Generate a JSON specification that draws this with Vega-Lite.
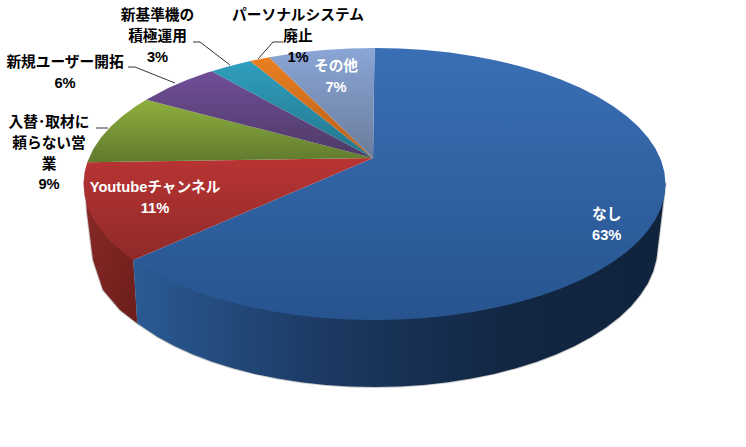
{"$schema":"https://vega.github.io/schema/vega-lite/v6.json","width":746,"height":447,"padding":0,"autosize":{"type":"none"},"background":"white","config":{"view":{"stroke":null}},
"data":{"values":[
{"name":"なし","share":63,"label":"なし\n63%","placement":"inside","lon":0.7979,"lat":-0.1065,
"top":{"type":"Polygon","coordinates":[[[-0.005,0.0893],[0,0.4674],[0.0872,0.4656],[0.1736,0.4603],[0.2588,0.4515],[0.342,0.4392],[0.4226,0.4236],[0.5,0.4048],[0.5736,0.3829],[0.6428,0.358],[0.7071,0.3305],[0.766,0.3004],[0.8192,0.2681],[0.866,0.2337],[0.9063,0.1975],[0.9397,0.1599],[0.9659,0.121],[0.9848,0.0812],[0.9962,0.0407],[1,0],[0.9962,-0.0407],[0.9848,-0.0812],[0.9659,-0.121],[0.9397,-0.1599],[0.9063,-0.1975],[0.866,-0.2337],[0.8192,-0.2681],[0.766,-0.3004],[0.7071,-0.3305],[0.6428,-0.358],[0.5736,-0.3829],[0.5,-0.4048],[0.4226,-0.4236],[0.342,-0.4392],[0.2588,-0.4515],[0.1736,-0.4603],[0.0872,-0.4656],[0,-0.4674],[-0.0872,-0.4656],[-0.1736,-0.4603],[-0.2588,-0.4515],[-0.342,-0.4392],[-0.4226,-0.4236],[-0.5,-0.4048],[-0.5736,-0.3829],[-0.6428,-0.358],[-0.7071,-0.3305],[-0.766,-0.3004],[-0.829,-0.2614],[-0.005,0.0893]]]},
"wall":{"type":"Polygon","coordinates":[[[1,0],[0.988,-0.0997],[0.9688,-0.2584],[0.9577,-0.3],[0.9394,-0.341],[0.9138,-0.381],[0.8814,-0.4198],[0.8422,-0.4571],[0.7966,-0.4925],[0.745,-0.5257],[0.6877,-0.5567],[0.6251,-0.585],[0.5578,-0.6106],[0.4863,-0.6332],[0.411,-0.6525],[0.3326,-0.6686],[0.2517,-0.6812],[0.1689,-0.6903],[0.0848,-0.6958],[0,-0.6976],[-0.0848,-0.6958],[-0.1689,-0.6903],[-0.2517,-0.6812],[-0.3326,-0.6686],[-0.411,-0.6525],[-0.4863,-0.6332],[-0.5578,-0.6106],[-0.6251,-0.585],[-0.6877,-0.5567],[-0.745,-0.5257],[-0.815,-0.479],[-0.829,-0.2614],[1,0]]]}},
{"name":"Youtubeチャンネル","share":11,"label":"Youtubeチャンネル\n11%","placement":"inside","lon":-0.7543,"lat":-0.0137,
"top":{"type":"Polygon","coordinates":[[[-0.005,0.0893],[-0.829,-0.2614],[-0.866,-0.2337],[-0.9063,-0.1975],[-0.9397,-0.1599],[-0.9659,-0.121],[-0.9848,-0.0812],[-0.9962,-0.0407],[-1,0],[-0.9962,0.0407],[-0.9871,0.0747],[-0.005,0.0893]]]},
"wall":{"type":"Polygon","coordinates":[[[-0.829,-0.2614],[-0.815,-0.479],[-0.8746,-0.433],[-0.933,-0.3643],[-0.9674,-0.2612],[-0.988,-0.0997],[-0.9966,0.0137],[-0.829,-0.2614]]]}},
{"name":"入替･取材に頼らない営業","share":9,"label":"入替･取材に\n頼らない営\n業\n9%","placement":"outside","lon":-1.1186,"lat":0.2096,
"top":{"type":"Polygon","coordinates":[[[-0.005,0.0893],[-0.9871,0.0747],[-0.9659,0.121],[-0.9397,0.1599],[-0.9063,0.1975],[-0.866,0.2337],[-0.8192,0.2681],[-0.7844,0.2899],[-0.005,0.0893]]]},
"leader":{"type":"LineString","coordinates":[[-0.957,0.1924],[-0.9158,0.1924]]}},
{"name":"新規ユーザー開拓","share":6,"label":"新規ユーザー開拓\n6%","placement":"outside","lon":-1.0636,"lat":0.4158,
"top":{"type":"Polygon","coordinates":[[[-0.005,0.0893],[-0.7844,0.2899],[-0.7071,0.3305],[-0.6428,0.358],[-0.5736,0.3829],[-0.5592,0.3878],[-0.005,0.0893]]]},
"leader":{"type":"LineString","coordinates":[[-0.847,0.402],[-0.823,0.402],[-0.6856,0.3471]]}},
{"name":"新基準機の積極運用","share":3,"label":"新基準機の\n積極運用\n3%","placement":"outside","lon":-0.7457,"lat":0.5773,
"top":{"type":"Polygon","coordinates":[[[-0.005,0.0893],[-0.5592,0.3878],[-0.5,0.4048],[-0.4274,0.4225],[-0.005,0.0893]]]},
"leader":{"type":"LineString","coordinates":[[-0.6237,0.488],[-0.5997,0.488],[-0.4966,0.4089]]}},
{"name":"パーソナルシステム廃止","share":1,"label":"パーソナルシステム\n廃止\n1%","placement":"outside","lon":-0.2629,"lat":0.5773,
"top":{"type":"Polygon","coordinates":[[[-0.005,0.0893],[-0.4274,0.4225],[-0.3616,0.4358],[-0.005,0.0893]]]},
"leader":{"type":"LineString","coordinates":[[-0.3144,0.488],[-0.3488,0.488],[-0.4003,0.4296]]}},
{"name":"その他","share":7,"label":"その他\n7%","placement":"inside","lon":-0.1323,"lat":0.4021,
"top":{"type":"Polygon","coordinates":[[[-0.005,0.0893],[-0.3616,0.4358],[-0.2588,0.4515],[-0.1736,0.4603],[-0.0872,0.4656],[0,0.4674],[-0.005,0.0893]]]}}
]},
"projection":{"type":"identity","reflectY":true,"scale":291,"translate":[374.5,184]},
"layer":[
{"transform":[{"filter":"datum.wall"}],"mark":{"type":"geoshape","fill":"#c9c9c9","stroke":"#c9c9c9","strokeWidth":2},"encoding":{"shape":{"field":"wall","type":"geojson"}}},
{"transform":[{"filter":"datum.name==='Youtubeチャンネル'"}],"mark":{"type":"geoshape","fill":{"gradient":"linear","x1":0,"y1":0,"x2":1,"y2":1,"stops":[{"offset":0,"color":"#8a2a27"},{"offset":1,"color":"#6c1e1b"}]},"stroke":null},"encoding":{"shape":{"field":"wall","type":"geojson"}}},
{"transform":[{"filter":"datum.name==='なし'"}],"mark":{"type":"geoshape","fill":{"gradient":"linear","x1":0,"y1":0,"x2":1,"y2":0,"stops":[{"offset":0,"color":"#2a5a94"},{"offset":0.35,"color":"#1c3a63"},{"offset":0.7,"color":"#122743"},{"offset":1,"color":"#10233c"}]},"stroke":null},"encoding":{"shape":{"field":"wall","type":"geojson"}}},
{"transform":[{"filter":"datum.name==='なし'"}],"mark":{"type":"geoshape","fill":{"gradient":"linear","x1":0,"y1":0,"x2":0,"y2":1,"stops":[{"offset":0,"color":"#3a6fb5"},{"offset":1,"color":"#27548f"}]},"stroke":null},"encoding":{"shape":{"field":"top","type":"geojson"}}},
{"transform":[{"filter":"datum.name==='Youtubeチャンネル'"}],"mark":{"type":"geoshape","fill":{"gradient":"linear","x1":0,"y1":0,"x2":0,"y2":1,"stops":[{"offset":0,"color":"#b83433"},{"offset":1,"color":"#8f2a29"}]},"stroke":null},"encoding":{"shape":{"field":"top","type":"geojson"}}},
{"transform":[{"filter":"datum.share===9"}],"mark":{"type":"geoshape","fill":{"gradient":"linear","x1":0,"y1":0,"x2":0,"y2":1,"stops":[{"offset":0,"color":"#8fb03f"},{"offset":1,"color":"#5f7a2e"}]},"stroke":null},"encoding":{"shape":{"field":"top","type":"geojson"}}},
{"transform":[{"filter":"datum.share===6"}],"mark":{"type":"geoshape","fill":{"gradient":"linear","x1":0,"y1":0,"x2":0,"y2":1,"stops":[{"offset":0,"color":"#704e98"},{"offset":1,"color":"#4d3a66"}]},"stroke":null},"encoding":{"shape":{"field":"top","type":"geojson"}}},
{"transform":[{"filter":"datum.share===3"}],"mark":{"type":"geoshape","fill":{"gradient":"linear","x1":0,"y1":0,"x2":0,"y2":1,"stops":[{"offset":0,"color":"#2f9fbe"},{"offset":1,"color":"#24748a"}]},"stroke":null},"encoding":{"shape":{"field":"top","type":"geojson"}}},
{"transform":[{"filter":"datum.share===1"}],"mark":{"type":"geoshape","fill":{"gradient":"linear","x1":0,"y1":0,"x2":0,"y2":1,"stops":[{"offset":0,"color":"#ea7f22"},{"offset":1,"color":"#b5601c"}]},"stroke":null},"encoding":{"shape":{"field":"top","type":"geojson"}}},
{"transform":[{"filter":"datum.share===7"}],"mark":{"type":"geoshape","fill":{"gradient":"linear","x1":0,"y1":0,"x2":0,"y2":1,"stops":[{"offset":0,"color":"#8aa6d6"},{"offset":1,"color":"#6a7c9b"}]},"stroke":null},"encoding":{"shape":{"field":"top","type":"geojson"}}},
{"transform":[{"filter":"datum.leader"}],"mark":{"type":"geoshape","filled":false,"stroke":"#000000","strokeWidth":0.8},"encoding":{"shape":{"field":"leader","type":"geojson"}}},
{"mark":{"type":"text","lineBreak":"\n","font":"Liberation Sans, Noto Sans CJK JP","fontWeight":"bold","fontSize":14.7,"lineHeight":20.8,"align":"center","baseline":"middle"},"encoding":{"longitude":{"field":"lon","type":"quantitative"},"latitude":{"field":"lat","type":"quantitative"},"text":{"field":"label","type":"nominal"},"color":{"field":"placement","type":"nominal","scale":{"domain":["inside","outside"],"range":["#ffffff","#000000"]},"legend":null}}}
]}
